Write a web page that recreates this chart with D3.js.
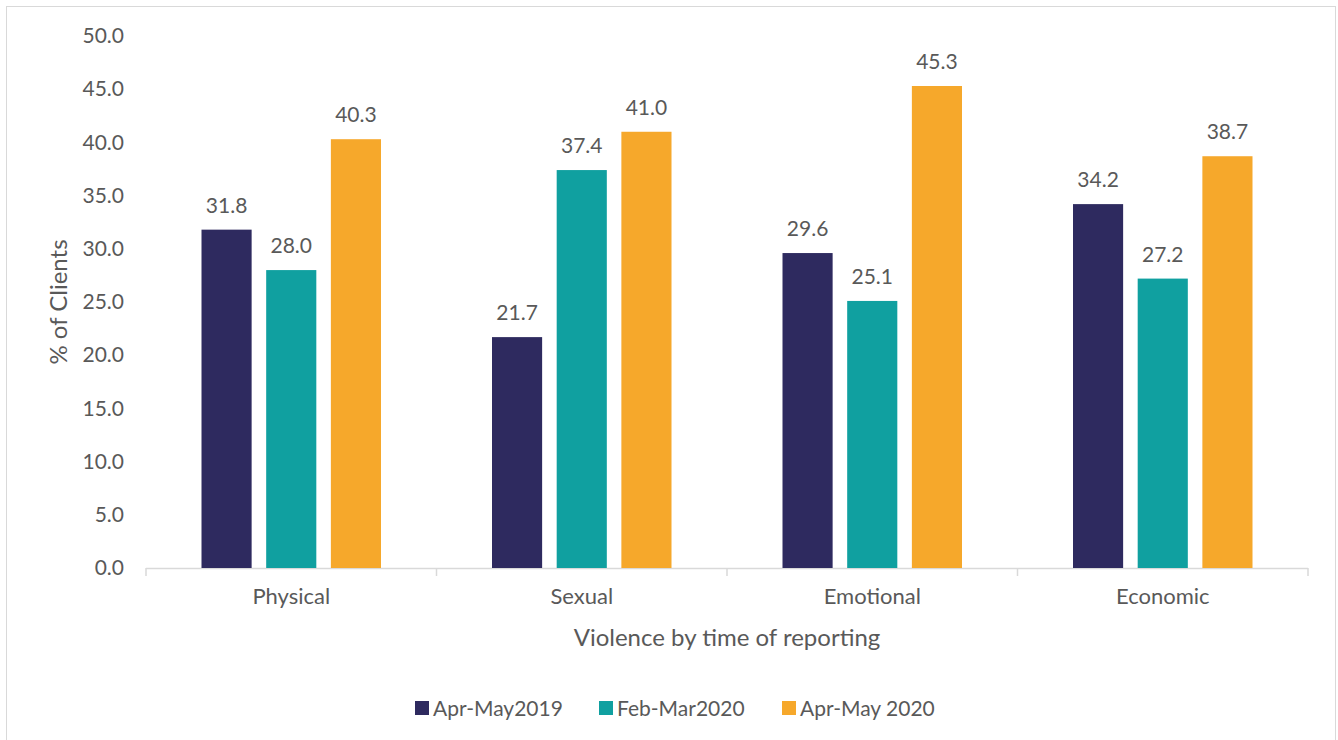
<!DOCTYPE html>
<html>
<head>
<meta charset="utf-8">
<script src="https://cdn.jsdelivr.net/npm/d3@7"></script>
<style>
body { margin: 0; background: #fff; }
text { font-family: Lato, "Open Sans", sans-serif; fill: #595959; }
</style>
</head>
<body>
<script>
var categories = ["Physical", "Sexual", "Emotional", "Economic"]
var seriesNames = ["Apr-May2019", "Feb-Mar2020", "Apr-May 2020"]
var apr2019 = [31.8, 21.7, 29.6, 34.2]
var feb2020 = [28.0, 37.4, 25.1, 27.2]
var apr2020 = [40.3, 41.0, 45.3, 38.7]
var yTicks = [0, 5, 10, 15, 20, 25, 30, 35, 40, 45, 50]
var colors = ["#2e2a5f", "#10a0a0", "#f6a82b"]

var width = 1338, height = 740
var plotLeft = 146, plotRight = 1308, plotTop = 36, plotBottom = 568

var svg = d3.select("body").append("svg")
  .attr("width", width)
  .attr("height", height)

// chart frame
svg.append("rect")
  .attr("x", 6.5).attr("y", 6.5)
  .attr("width", 1329).attr("height", 800)
  .attr("fill", "none")
  .attr("stroke", "#d9d9d9")

var x = d3.scaleBand()
  .domain(categories)
  .range([plotLeft, plotRight])

var x1 = d3.scaleBand()
  .domain(seriesNames)
  .range([55.5, x.bandwidth() - 55.5])
  .paddingInner(0.225)

var y = d3.scaleLinear()
  .domain([0, 50])
  .range([plotBottom, plotTop])

// y axis labels (no line)
var yAxis = svg.append("g")
  .attr("transform", "translate(" + plotLeft + ",0)")
  .call(d3.axisLeft(y).tickValues(yTicks).tickFormat(d3.format(".1f")).tickSize(0).tickPadding(22))
yAxis.select(".domain").remove()
yAxis.selectAll("text").style("font-size", "21px").style("font-family", "Lato, sans-serif").attr("fill", "#595959")

// x axis
var xAxis = svg.append("g")
  .attr("transform", "translate(0," + plotBottom + ")")
  .call(d3.axisBottom(x).tickSize(0).tickPadding(20))
xAxis.select(".domain").remove()
xAxis.selectAll("text").style("font-size", "22px").style("font-family", "Lato, sans-serif").attr("fill", "#595959")

var tickPos = categories.map(function(c) { return x(c) }).concat([plotRight])
svg.append("line")
  .attr("x1", plotLeft).attr("x2", plotRight)
  .attr("y1", plotBottom + 0.5).attr("y2", plotBottom + 0.5)
  .attr("stroke", "#d9d9d9").attr("stroke-width", 1.5)
svg.selectAll(".xtick").data(tickPos).enter().append("line")
  .attr("x1", function(d) { return d }).attr("x2", function(d) { return d })
  .attr("y1", plotBottom).attr("y2", plotBottom + 8)
  .attr("stroke", "#d9d9d9").attr("stroke-width", 1.5)

var seriesValues = [apr2019, feb2020, apr2020]

var groups = svg.append("g").selectAll("g")
  .data(seriesNames)
  .enter().append("g")
  .attr("fill", function(d, i) { return colors[i] })

groups.each(function(s, si) {
  var g = d3.select(this)
  g.selectAll("rect")
    .data(seriesValues[si])
    .enter().append("rect")
    .attr("x", function(d, i) { return x(categories[i]) + x1(s) })
    .attr("y", function(d) { return y(d) })
    .attr("width", x1.bandwidth())
    .attr("height", function(d) { return plotBottom - y(d) })
  svg.append("g").selectAll("text")
    .data(seriesValues[si])
    .enter().append("text")
    .attr("x", function(d, i) { return x(categories[i]) + x1(s) + x1.bandwidth() / 2 })
    .attr("y", function(d) { return y(d) - 17 })
    .attr("text-anchor", "middle")
    .style("font-size", "21px")
    .text(function(d) { return d.toFixed(1) })
})

// axis titles
svg.append("text")
  .attr("transform", "translate(67," + ((plotTop + plotBottom) / 2) + ") rotate(-90)")
  .attr("text-anchor", "middle")
  .style("font-size", "24px")
  .text("% of Clients")

svg.append("text")
  .attr("x", (plotLeft + plotRight) / 2)
  .attr("y", 646)
  .attr("text-anchor", "middle")
  .style("font-size", "24px")
  .text("Violence by time of reporting")

// legend
var legendX = [415, 599, 782]
var legend = svg.append("g").selectAll("g")
  .data(seriesNames)
  .enter().append("g")
  .attr("transform", function(d, i) { return "translate(" + legendX[i] + ",701)" })
legend.append("rect")
  .attr("width", 14).attr("height", 14)
  .attr("fill", function(d, i) { return colors[i] })
legend.append("text")
  .attr("x", 18).attr("y", 15)
  .style("font-size", "21px")
  .text(function(d) { return d })
</script>
</body>
</html>
